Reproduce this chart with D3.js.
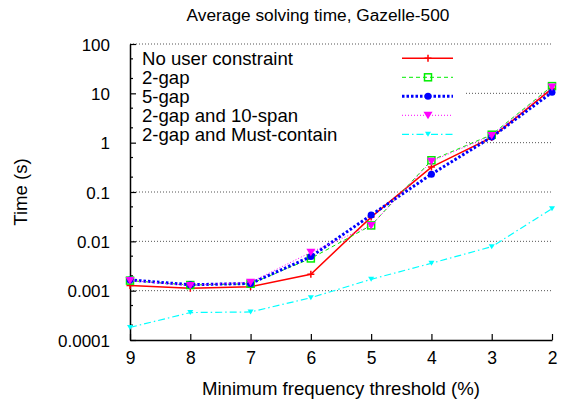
<!DOCTYPE html>
<html><head><meta charset="utf-8">
<script src="https://cdn.jsdelivr.net/npm/d3@7"></script>
<style>body{margin:0;background:#fff}svg{display:block;font-family:"Liberation Sans",Arial,sans-serif}</style>
</head><body>
<svg id="c" width="561" height="400"></svg>
<script>
const thresholds = [9, 8, 7, 6, 5, 4, 3, 2];
const yTickValues = [100, 10, 1, 0.1, 0.01, 0.001, 0.0001];
const yTickLabels = ["100", "10", "1", "0.1", "0.01", "0.001", "0.0001"];
const seriesNames = ["No user constraint", "2-gap", "5-gap", "2-gap and 10-span", "2-gap and Must-contain"];
const noConstraint = [0.00128, 0.00112, 0.0012, 0.00215, 0.031, 0.32, 1.28, 12.5];
const gap2 = [0.0016, 0.0013, 0.00138, 0.0045, 0.021, 0.44, 1.45, 14];
const gap5 = [0.00165, 0.00132, 0.0014, 0.0049, 0.034, 0.23, 1.3, 10.5];
const gap2span10 = [0.0016, 0.00128, 0.00148, 0.006, 0.021, 0.42, 1.4, 13.5];
const gap2must = [0.00018, 0.00036, 0.00037, 0.00072, 0.0017, 0.0036, 0.0078, 0.046];

const svg = d3.select("#c");
const L = 130, R = 552, T = 44, B = 340;
const x = d3.scaleLinear().domain([9, 2]).range([L, R]);
const y = d3.scaleLog().domain([0.0001, 100]).range([B, T]);

// grid
const grid = svg.append("g");
yTickValues.filter(v => v > 0.0001).forEach(v => {
  grid.append("line").attr("x1", L).attr("x2", R).attr("y1", y(v)).attr("y2", y(v))
    .attr("stroke", "#555").attr("stroke-width", 1).attr("stroke-dasharray", "1,2");
});
// legend mask over grid
svg.append("rect").attr("x", L + 1).attr("y", y(100) + 2).attr("width", 463 - L).attr("height", y(1) - y(100) + 2).attr("fill", "#fff");

// axes
const yAxis = d3.axisLeft(y).tickValues(yTickValues).tickFormat((d, i) => yTickLabels[i]).tickSizeInner(-6).tickSizeOuter(0).tickPadding(20);
const gy = svg.append("g").attr("transform", `translate(${L},0)`).call(yAxis);
gy.select(".domain").attr("stroke-width", 1.5);
gy.selectAll(".tick line").attr("stroke-width", 1.2);
gy.selectAll(".tick text").attr("font-size", 17).attr("fill", "#000").attr("dy", "0.36em");
// minor ticks
const minors = [];
for (let e = -4; e < 2; e++) { [2, 5].forEach(m => minors.push(m * Math.pow(10, e))); }
svg.append("g").selectAll("line").data(minors).join("line")
  .attr("x1", L).attr("x2", L + 3).attr("y1", d => y(d)).attr("y2", d => y(d))
  .attr("stroke", "#000").attr("stroke-width", 1.2);

const xAxis = d3.axisBottom(x).tickValues(thresholds).tickFormat(d3.format("d")).tickSizeInner(-6).tickSizeOuter(0).tickPadding(12);
const gx = svg.append("g").attr("transform", `translate(0,${B})`).call(xAxis);
gx.select(".domain").attr("stroke-width", 1.5);
gx.selectAll(".tick line").attr("stroke-width", 1.2);
gx.selectAll(".tick text").attr("font-size", 17.5).attr("fill", "#000");

// titles
svg.append("text").attr("x", 318).attr("y", 21).attr("text-anchor", "middle").attr("font-size", 17.3).text("Average solving time, Gazelle-500");
svg.append("text").attr("x", 341).attr("y", 395).attr("text-anchor", "middle").attr("font-size", 18.6).text("Minimum frequency threshold (%)");
svg.append("text").attr("transform", "translate(27,192) rotate(-90)").attr("text-anchor", "middle").attr("font-size", 18.6).text("Time (s)");

const series = [
  {name: seriesNames[0], vals: noConstraint, color: "#ff0000", w: 1.5, dash: null, mark: "plus"},
  {name: seriesNames[1], vals: gap2, color: "#00ee00", w: 1, dash: "4,3", mark: "square"},
  {name: seriesNames[2], vals: gap5, color: "#0000ff", w: 3, dash: "2.5,2", mark: "circle"},
  {name: seriesNames[3], vals: gap2span10, color: "#ff00ff", w: 1, dash: "1,2", mark: "tri"},
  {name: seriesNames[4], vals: gap2must, color: "#00ffff", w: 1.2, dash: "7,3,1.5,3", mark: "tri2"}
];

function drawMark(g, m, cx, cy, color) {
  if (m === "plus") {
    g.append("path").attr("d", `M${cx-3.5},${cy}H${cx+3.5}M${cx},${cy-3.5}V${cy+3.5}`).attr("stroke", color).attr("stroke-width", 1.5).attr("fill", "none");
  } else if (m === "square") {
    g.append("rect").attr("x", cx - 3.5).attr("y", cy - 3.5).attr("width", 7).attr("height", 7).attr("fill", "none").attr("stroke", color).attr("stroke-width", 1.5);
  } else if (m === "circle") {
    g.append("circle").attr("cx", cx).attr("cy", cy).attr("r", 3.5).attr("fill", color);
  } else if (m === "tri") {
    g.append("path").attr("d", `M${cx-4.5},${cy-3.5}L${cx+4.5},${cy-3.5}L${cx},${cy+4}Z`).attr("fill", color);
  } else if (m === "tri2") {
    g.append("path").attr("d", `M${cx-3},${cy-2.5}L${cx+3},${cy-2.5}L${cx},${cy+2.5}Z`).attr("fill", color);
  }
}

const line = d3.line().x((d, i) => x(thresholds[i])).y(d => y(d));
series.forEach((s, k) => {
  const g = svg.append("g");
  g.append("path").attr("d", line(s.vals)).attr("fill", "none").attr("stroke", s.color)
    .attr("stroke-width", s.w).attr("stroke-dasharray", s.dash);
  s.vals.forEach((v, i) => drawMark(g, s.mark, x(thresholds[i]), y(v), s.color));
  // legend
  const ly = 58.3 + k * 19;
  const lg = svg.append("g");
  lg.append("text").attr("x", 142).attr("y", ly + 6.7).attr("font-size", 18.6).text(s.name);
  lg.append("line").attr("x1", 402).attr("x2", 453).attr("y1", ly).attr("y2", ly)
    .attr("stroke", s.color).attr("stroke-width", s.w).attr("stroke-dasharray", s.dash);
  drawMark(lg, s.mark, 428, ly, s.color);
});
</script>
</body></html>
